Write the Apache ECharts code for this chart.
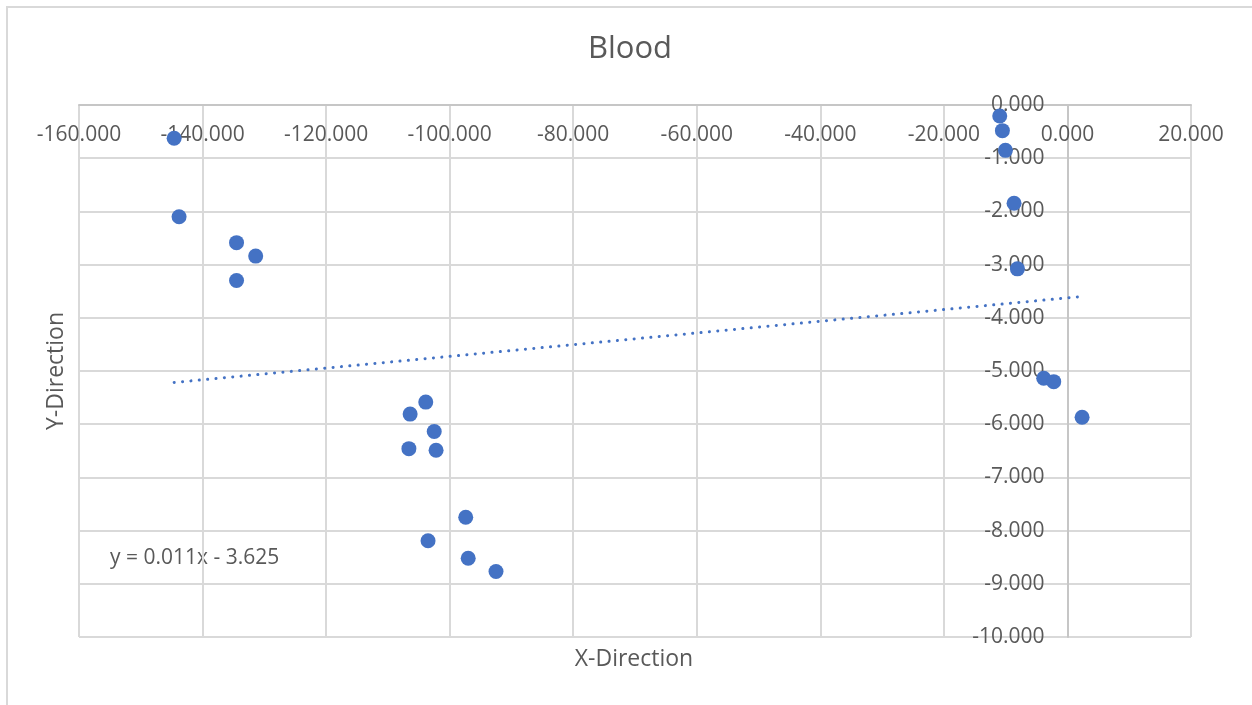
<!DOCTYPE html>
<html>
<head>
<meta charset="utf-8">
<script src="https://cdn.jsdelivr.net/npm/echarts@6/dist/echarts.min.js"></script>
<style>
html,body{margin:0;padding:0;background:#fff;}
#chart{width:1252px;height:705px;}
</style>
</head>
<body>
<div id="chart"></div>
<script>
// Data
const xValues = [-144.6, -143.8, -134.5, -131.4, -134.5, -10.96, -10.53, -10.04, -8.64, -8.10, -3.84, -2.22, 2.37, -103.87, -106.4, -102.5, -106.6, -102.2, -97.4, -103.5, -97.0, -92.5];
const yValues = [-0.626, -2.10, -2.587, -2.84, -3.30, -0.207, -0.482, -0.852, -1.847, -3.08, -5.135, -5.20, -5.87, -5.585, -5.81, -6.137, -6.46, -6.49, -7.75, -8.19, -8.52, -8.77];
// Trendline equation shown on the chart: y = 0.011x - 3.625
const trendSlope = 0.011;
const trendIntercept = -3.625;
const trendLabel = 'y = 0.011x - 3.625';
const chartTitle = 'Blood';
const xTitle = 'X-Direction';
const yTitle = 'Y-Direction';
const xTicks = {min: -160, max: 20, step: 20};
const yTicks = {min: -10, max: 0, step: 1};

const points = xValues.map((x, i) => [x, yValues[i]]);
const xMin = Math.min.apply(null, xValues);
const xMax = Math.max.apply(null, xValues);
const trendPoints = [xMin, xMax].map(x => [x, trendSlope * x + trendIntercept]);

const FONT = '"Open Sans", sans-serif';
const TXT = '#595959';
const GRID = '#d9d9d9';
const AXIS = '#c6c6c6';
const BLUE = '#4472C4';

const gridLeft = 79, gridRight = 61, gridTop = 105, gridBottom = 68;
const plotW = 1252 - gridLeft - gridRight;
// y axis line sits at x = 0: distance from the right edge of the plot
const yAxisOffset = -plotW * (xTicks.max - 0) / (xTicks.max - xTicks.min);

const chart = echarts.init(document.getElementById('chart'), null, {renderer: 'canvas'});
chart.setOption({
  animation: false,
  backgroundColor: '#fff',
  grid: {left: gridLeft, right: gridRight, top: gridTop, bottom: gridBottom,
         containLabel: false, outerBoundsMode: 'none'},
  xAxis: {
    type: 'value', min: xTicks.min, max: xTicks.max, interval: xTicks.step, position: 'top',
    axisLine: {show: true, onZero: false, lineStyle: {color: AXIS, width: 2}},
    axisTick: {show: false},
    axisLabel: {inside: true, color: TXT, fontFamily: FONT, fontSize: 21, margin: 20,
      formatter: v => v.toFixed(3)},
    splitLine: {show: true, lineStyle: {color: GRID, width: 2}}
  },
  yAxis: {
    type: 'value', min: yTicks.min, max: yTicks.max, interval: yTicks.step, position: 'right',
    offset: yAxisOffset,
    axisLine: {show: true, onZero: false, lineStyle: {color: AXIS, width: 2}},
    axisTick: {show: false},
    axisLabel: {inside: true, color: TXT, fontFamily: FONT, fontSize: 21, margin: 23,
      formatter: v => v.toFixed(3)},
    splitLine: {show: true, lineStyle: {color: GRID, width: 2}}
  },
  series: [
    {
      type: 'line', data: trendPoints, showSymbol: false, symbol: 'none',
      lineStyle: {color: BLUE, width: 3, type: [0.1, 8.3], cap: 'round'},
      z: 2, silent: true
    },
    {
      type: 'scatter', data: points, symbol: 'circle', symbolSize: 15,
      itemStyle: {color: BLUE, opacity: 1}, z: 3
    }
  ],
  graphic: [
    {type: 'rect', shape: {x: 7, y: 7, width: 1300, height: 800},
     style: {fill: 'none', stroke: GRID, lineWidth: 2}, silent: true, z: -10},
    {type: 'text', x: 630, y: 49,
     style: {text: chartTitle, font: '31px ' + FONT, fill: TXT, textAlign: 'center', textVerticalAlign: 'middle'}},
    {type: 'text', x: 634, y: 659,
     style: {text: xTitle, font: '23px ' + FONT, fill: TXT, textAlign: 'center', textVerticalAlign: 'middle'}},
    {type: 'text', x: 56, y: 371, rotation: Math.PI / 2,
     style: {text: yTitle, font: '23px ' + FONT, fill: TXT, textAlign: 'center', textVerticalAlign: 'middle'}},
    {type: 'text', x: 110, y: 558,
     style: {text: trendLabel, font: '21px ' + FONT, fill: TXT, textAlign: 'left', textVerticalAlign: 'middle'}}
  ]
});
</script>
</body>
</html>
